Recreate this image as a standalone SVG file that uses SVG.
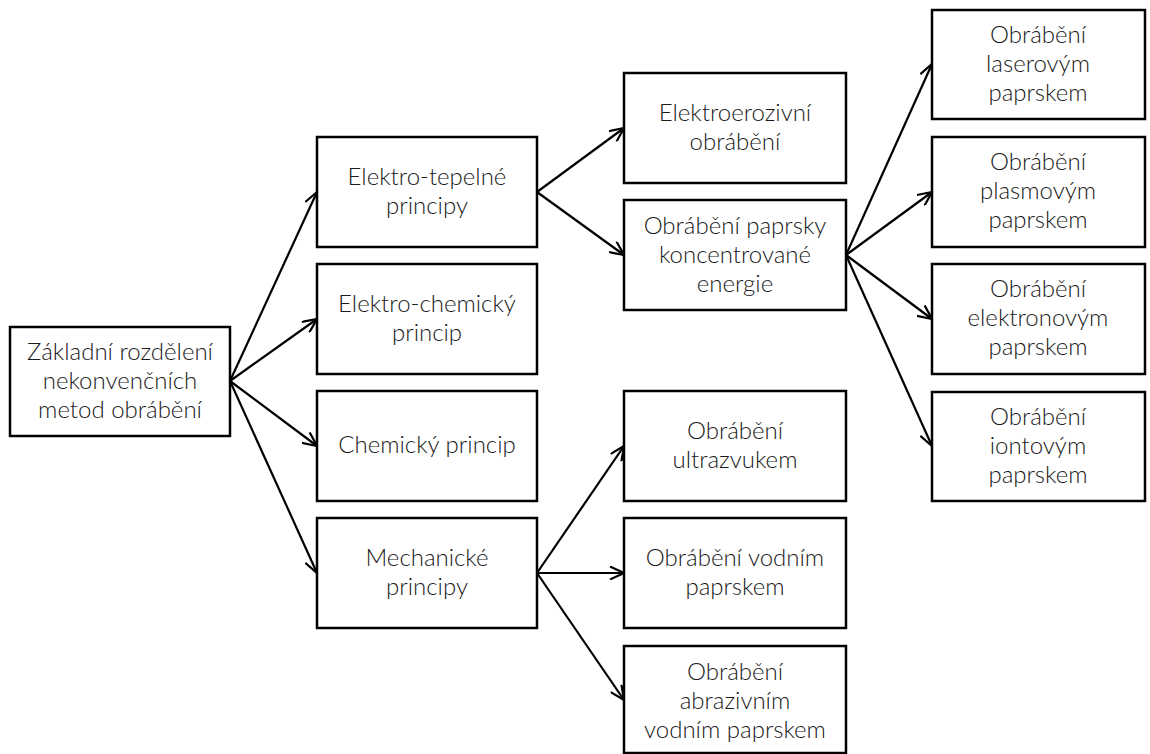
<svg xmlns="http://www.w3.org/2000/svg" width="1150" height="754" viewBox="0 0 1150 754">
<style>
.box{fill:#fff;stroke:#000;stroke-width:2.5}
.t{font-family:Lato,"Open Sans","Liberation Sans",sans-serif;font-size:24px;font-weight:300;fill:#1a1a1a;text-anchor:middle}
.c{stroke:#000;stroke-width:2.2;fill:none}
</style>
<defs>
<marker id="ah" viewBox="0 0 16 14" refX="15" refY="7" markerWidth="16" markerHeight="14" markerUnits="userSpaceOnUse" orient="auto">
<path d="M1,0.5 L15,7 L1,13.5" fill="none" stroke="#000" stroke-width="2.2"/>
</marker>
</defs>
<rect width="1150" height="754" fill="#fff"/>
<g id="connectors">
<line class="c" x1="230" y1="381" x2="317" y2="192" marker-end="url(#ah)"/>
<line class="c" x1="230" y1="381" x2="317" y2="319" marker-end="url(#ah)"/>
<line class="c" x1="230" y1="381" x2="317" y2="446" marker-end="url(#ah)"/>
<line class="c" x1="230" y1="381" x2="317" y2="573" marker-end="url(#ah)"/>
<line class="c" x1="537" y1="192" x2="624" y2="128" marker-end="url(#ah)"/>
<line class="c" x1="537" y1="192" x2="624" y2="255" marker-end="url(#ah)"/>
<line class="c" x1="537" y1="573" x2="624" y2="446" marker-end="url(#ah)"/>
<line class="c" x1="537" y1="573" x2="624" y2="573" marker-end="url(#ah)"/>
<line class="c" x1="537" y1="573" x2="624" y2="700" marker-end="url(#ah)"/>
<line class="c" x1="846" y1="255" x2="932" y2="64" marker-end="url(#ah)"/>
<line class="c" x1="846" y1="255" x2="932" y2="192" marker-end="url(#ah)"/>
<line class="c" x1="846" y1="255" x2="932" y2="319" marker-end="url(#ah)"/>
<line class="c" x1="846" y1="255" x2="932" y2="446" marker-end="url(#ah)"/>
</g>
<g id="root"><rect class="box" x="10" y="327" width="220" height="109"/>
<text class="t" x="120" y="360">Základní rozdělení</text><text class="t" x="120" y="389">nekonvenčních</text><text class="t" x="120" y="418">metod obrábění</text></g>
<g id="elektro-tepelne"><rect class="box" x="317" y="137" width="220" height="110"/>
<text class="t" x="427" y="185">Elektro-tepelné</text><text class="t" x="427" y="214">principy</text></g>
<g id="elektro-chemicky"><rect class="box" x="317" y="264" width="220" height="110"/>
<text class="t" x="427" y="312">Elektro-chemický</text><text class="t" x="427" y="341">princip</text></g>
<g id="chemicky"><rect class="box" x="317" y="391" width="220" height="110"/>
<text class="t" x="427" y="453">Chemický princip</text></g>
<g id="mechanicke"><rect class="box" x="317" y="518" width="220" height="110"/>
<text class="t" x="427" y="566">Mechanické</text><text class="t" x="427" y="595">principy</text></g>
<g id="elektroerozivni"><rect class="box" x="624" y="73" width="222" height="110"/>
<text class="t" x="735" y="121">Elektroerozivní</text><text class="t" x="735" y="150">obrábění</text></g>
<g id="paprsky"><rect class="box" x="624" y="200" width="222" height="110"/>
<text class="t" x="735" y="234">Obrábění paprsky</text><text class="t" x="735" y="263">koncentrované</text><text class="t" x="735" y="292">energie</text></g>
<g id="ultrazvukem"><rect class="box" x="624" y="391" width="222" height="110"/>
<text class="t" x="735" y="439">Obrábění</text><text class="t" x="735" y="468">ultrazvukem</text></g>
<g id="vodnim"><rect class="box" x="624" y="518" width="222" height="110"/>
<text class="t" x="735" y="566">Obrábění vodním</text><text class="t" x="735" y="595">paprskem</text></g>
<g id="abrazivnim"><rect class="box" x="624" y="646" width="222" height="107"/>
<text class="t" x="735" y="680">Obrábění</text><text class="t" x="735" y="709">abrazivním</text><text class="t" x="735" y="738">vodním paprskem</text></g>
<g id="laserovym"><rect class="box" x="932" y="10" width="213" height="109"/>
<text class="t" x="1038" y="43">Obrábění</text><text class="t" x="1038" y="72">laserovým</text><text class="t" x="1038" y="101">paprskem</text></g>
<g id="plasmovym"><rect class="box" x="932" y="137" width="213" height="110"/>
<text class="t" x="1038" y="170">Obrábění</text><text class="t" x="1038" y="199">plasmovým</text><text class="t" x="1038" y="228">paprskem</text></g>
<g id="elektronovym"><rect class="box" x="932" y="264" width="213" height="110"/>
<text class="t" x="1038" y="297">Obrábění</text><text class="t" x="1038" y="326">elektronovým</text><text class="t" x="1038" y="355">paprskem</text></g>
<g id="iontovym"><rect class="box" x="932" y="392" width="213" height="109"/>
<text class="t" x="1038" y="425">Obrábění</text><text class="t" x="1038" y="454">iontovým</text><text class="t" x="1038" y="483">paprskem</text></g>
</svg>
